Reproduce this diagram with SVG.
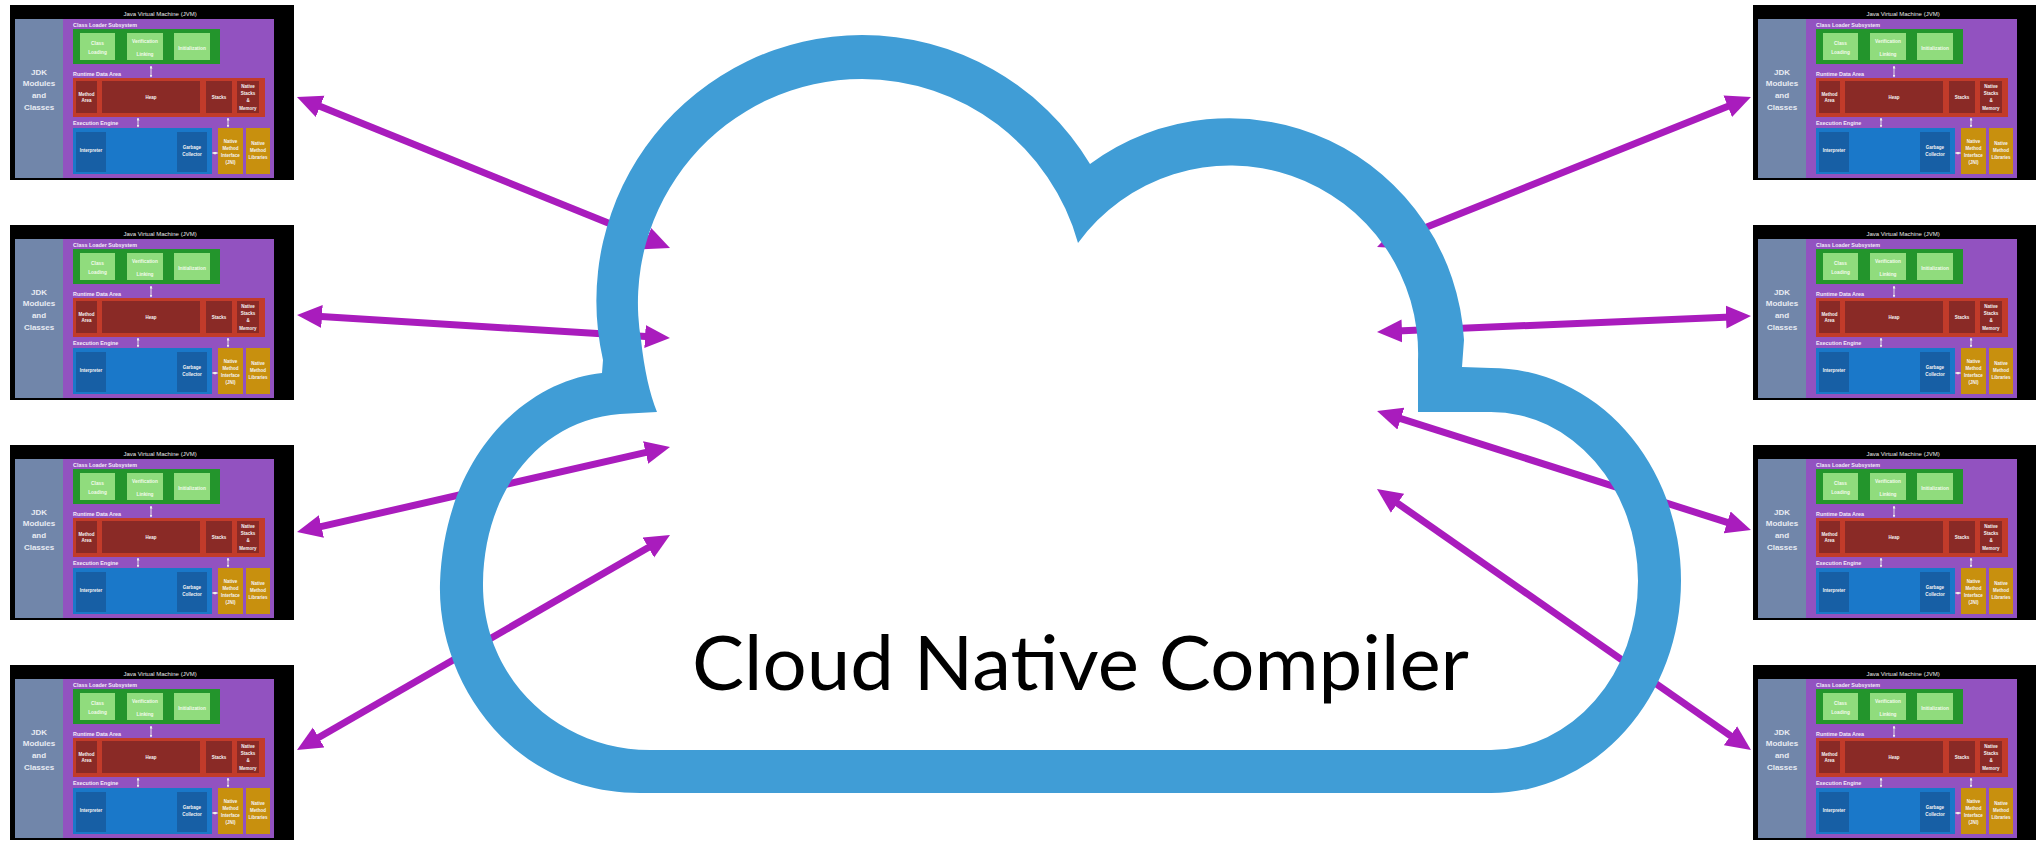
<svg xmlns="http://www.w3.org/2000/svg" width="2036" height="841" viewBox="0 0 2036 841">
<style>
.bk{fill:#000}
.jdk{fill:#7186aa}
.pur{fill:#9252c0}
.g1{fill:#23952c}
.g2{fill:#90dc7d}
.r1{fill:#c23b2a}
.r2{fill:#8a2a26}
.b1{fill:#1a78c9}
.b2{fill:#175fa5}
.o{fill:#c8900e}
text{font-family:"Liberation Sans",Arial,sans-serif}
.tt{font-size:6px;fill:#e6e6e6;text-anchor:middle}
.tj{font-size:8px;font-weight:bold;fill:#e8ebf2;text-anchor:middle}
.ts{font-size:5.4px;font-weight:bold;fill:#f2eaf8}
.ti{font-size:4.5px;font-weight:bold;fill:#f4f4f4;text-anchor:middle}
.tg{font-size:4.8px;font-weight:bold;fill:#f2fbec;text-anchor:middle}
.sa{stroke:#eee;stroke-width:0.9;fill:none;marker-start:url(#ms);marker-end:url(#ms)}
.da{stroke:#eee;stroke-width:0.9;fill:none;stroke-dasharray:1.2 0.8;marker-start:url(#ms);marker-end:url(#ms)}
.con{stroke:#a91cbd;stroke-width:7;fill:none;marker-start:url(#ah);marker-end:url(#ah)}
.cloud{fill:#409dd6;fill-rule:evenodd}
.title{font-family:Lato,"Liberation Sans",sans-serif;font-size:76px;fill:#000}
</style>
<defs>
<marker id="ah" markerUnits="userSpaceOnUse" markerWidth="25" markerHeight="24" viewBox="0 -12 25 24" refX="5" refY="0" orient="auto-start-reverse">
<path d="M0,-11.5 L25,0 L0,11.5 Z" fill="#a91cbd"/>
</marker>
<marker id="ms" markerUnits="userSpaceOnUse" markerWidth="3" markerHeight="3" viewBox="0 -1.5 3 3" refX="2.5" refY="0" orient="auto-start-reverse">
<path d="M0,-1.5 L3,0 L0,1.5 Z" fill="#eee"/>
</marker>
</defs>
<rect x="0" y="0" width="2036" height="841" fill="#fff"/>

<g id="connectors">
<line class="con" x1="315.5" y1="104.5" x2="651.5" y2="240.5"/>
<line class="con" x1="317" y1="316.2" x2="650" y2="336.8"/>
<line class="con" x1="316.5" y1="527.6" x2="650.5" y2="451.4"/>
<line class="con" x1="314.3" y1="740" x2="652.7" y2="545"/>
<line class="con" x1="1732.4" y1="104.4" x2="1395.6" y2="239.6"/>
<line class="con" x1="1731" y1="316.9" x2="1397" y2="331.1"/>
<line class="con" x1="1731.9" y1="523.9" x2="1396.1" y2="417.1"/>
<line class="con" x1="1734.6" y1="738.6" x2="1393.4" y2="500.4"/>
</g>

<g id="cloud">
<path class="cloud" d="M602 373 C530 380 445 450 440 583 C437 680 510 793 640 793 L1491 793 A190 212.5 0 0 0 1681 580.5 A190 212.5 0 0 0 1491 368 L1462 367 L1464 340 A235 235 0 0 0 1090 164 A266 266 0 0 0 862 35 A266 266 0 0 0 603 360 Z M657 412 L620 414 C540 420 484 490 483 583 C482 680 560 750 650 750 L1491 750 A147 169 0 0 0 1638 581 A147 169 0 0 0 1491 412 L1418 412 L1418 360 A188 188 0 0 0 1078 243 A224 224 0 0 0 862 79 A224 224 0 0 0 641 340 Q646 385 657 412 Z"/>
<text class="title" x="692" y="690" textLength="777" lengthAdjust="spacingAndGlyphs">Cloud Native Compiler</text>
</g>

<g id="jvm-left-1" transform="translate(10,5)">
<rect class="bk" width="284" height="175"/>
<text class="tt" x="150" y="11">Java Virtual Machine (JVM)</text>
<rect class="jdk" x="5" y="14" width="48" height="159"/>
<text class="tj" x="29" y="70">JDK</text><text class="tj" x="29" y="81">Modules</text><text class="tj" x="29" y="93">and</text><text class="tj" x="29" y="105">Classes</text>
<rect class="pur" x="53" y="14" width="211" height="159"/>
<text class="ts" x="63" y="22">Class Loader Subsystem</text>
<rect class="g1" x="63" y="24" width="147" height="35"/>
<rect class="g2" x="70" y="28" width="35" height="27"/><rect class="g2" x="117" y="28" width="36" height="27"/><rect class="g2" x="164" y="28" width="36" height="27"/>
<text class="tg" x="87.5" y="39.5">Class</text><text class="tg" x="87.5" y="48.5">Loading</text>
<text class="tg" x="135" y="37.5">Verification</text><text class="tg" x="135" y="50.5">Linking</text>
<text class="tg" x="182" y="44.5">Initialization</text>
<path class="sa" d="M141,61 V72"/>
<text class="ts" x="63" y="71">Runtime Data Area</text>
<rect class="r1" x="63" y="73" width="192" height="39"/>
<rect class="r2" x="66" y="76" width="21" height="32"/><rect class="r2" x="92" y="76" width="98" height="32"/><rect class="r2" x="196" y="76" width="26" height="32"/><rect class="r2" x="227" y="76" width="22" height="32"/>
<text class="ti" x="76.5" y="90.5">Method</text><text class="ti" x="76.5" y="96.5">Area</text>
<text class="ti" x="141" y="93.5">Heap</text><text class="ti" x="209" y="93.5">Stacks</text>
<text class="ti" x="238" y="82.5">Native</text><text class="ti" x="238" y="90">Stacks</text><text class="ti" x="238" y="97">&amp;</text><text class="ti" x="238" y="104.5">Memory</text>
<path class="sa" d="M128,113 V122"/><path class="sa" d="M218,113 V122"/>
<text class="ts" x="63" y="120">Execution Engine</text>
<rect class="b1" x="63" y="123" width="139" height="46"/>
<rect class="b2" x="66" y="127" width="30" height="40"/><rect class="b2" x="167" y="127" width="30" height="40"/>
<text class="ti" x="81" y="147">Interpreter</text>
<text class="ti" x="182" y="143.5">Garbage</text><text class="ti" x="182" y="150.5">Collector</text>
<path class="da" d="M202.5,148 H207.5"/>
<rect class="o" x="208" y="123" width="25" height="46"/><rect class="o" x="236" y="123" width="24" height="46"/>
<text class="ti" x="220.5" y="138">Native</text><text class="ti" x="220.5" y="145">Method</text><text class="ti" x="220.5" y="152">Interface</text><text class="ti" x="220.5" y="159">(JNI)</text>
<text class="ti" x="248" y="140">Native</text><text class="ti" x="248" y="147">Method</text><text class="ti" x="248" y="154">Libraries</text>
</g>

<g id="jvm-left-2" transform="translate(10,225)">
<rect class="bk" width="284" height="175"/>
<text class="tt" x="150" y="11">Java Virtual Machine (JVM)</text>
<rect class="jdk" x="5" y="14" width="48" height="159"/>
<text class="tj" x="29" y="70">JDK</text><text class="tj" x="29" y="81">Modules</text><text class="tj" x="29" y="93">and</text><text class="tj" x="29" y="105">Classes</text>
<rect class="pur" x="53" y="14" width="211" height="159"/>
<text class="ts" x="63" y="22">Class Loader Subsystem</text>
<rect class="g1" x="63" y="24" width="147" height="35"/>
<rect class="g2" x="70" y="28" width="35" height="27"/><rect class="g2" x="117" y="28" width="36" height="27"/><rect class="g2" x="164" y="28" width="36" height="27"/>
<text class="tg" x="87.5" y="39.5">Class</text><text class="tg" x="87.5" y="48.5">Loading</text>
<text class="tg" x="135" y="37.5">Verification</text><text class="tg" x="135" y="50.5">Linking</text>
<text class="tg" x="182" y="44.5">Initialization</text>
<path class="sa" d="M141,61 V72"/>
<text class="ts" x="63" y="71">Runtime Data Area</text>
<rect class="r1" x="63" y="73" width="192" height="39"/>
<rect class="r2" x="66" y="76" width="21" height="32"/><rect class="r2" x="92" y="76" width="98" height="32"/><rect class="r2" x="196" y="76" width="26" height="32"/><rect class="r2" x="227" y="76" width="22" height="32"/>
<text class="ti" x="76.5" y="90.5">Method</text><text class="ti" x="76.5" y="96.5">Area</text>
<text class="ti" x="141" y="93.5">Heap</text><text class="ti" x="209" y="93.5">Stacks</text>
<text class="ti" x="238" y="82.5">Native</text><text class="ti" x="238" y="90">Stacks</text><text class="ti" x="238" y="97">&amp;</text><text class="ti" x="238" y="104.5">Memory</text>
<path class="sa" d="M128,113 V122"/><path class="sa" d="M218,113 V122"/>
<text class="ts" x="63" y="120">Execution Engine</text>
<rect class="b1" x="63" y="123" width="139" height="46"/>
<rect class="b2" x="66" y="127" width="30" height="40"/><rect class="b2" x="167" y="127" width="30" height="40"/>
<text class="ti" x="81" y="147">Interpreter</text>
<text class="ti" x="182" y="143.5">Garbage</text><text class="ti" x="182" y="150.5">Collector</text>
<path class="da" d="M202.5,148 H207.5"/>
<rect class="o" x="208" y="123" width="25" height="46"/><rect class="o" x="236" y="123" width="24" height="46"/>
<text class="ti" x="220.5" y="138">Native</text><text class="ti" x="220.5" y="145">Method</text><text class="ti" x="220.5" y="152">Interface</text><text class="ti" x="220.5" y="159">(JNI)</text>
<text class="ti" x="248" y="140">Native</text><text class="ti" x="248" y="147">Method</text><text class="ti" x="248" y="154">Libraries</text>
</g>

<g id="jvm-left-3" transform="translate(10,445)">
<rect class="bk" width="284" height="175"/>
<text class="tt" x="150" y="11">Java Virtual Machine (JVM)</text>
<rect class="jdk" x="5" y="14" width="48" height="159"/>
<text class="tj" x="29" y="70">JDK</text><text class="tj" x="29" y="81">Modules</text><text class="tj" x="29" y="93">and</text><text class="tj" x="29" y="105">Classes</text>
<rect class="pur" x="53" y="14" width="211" height="159"/>
<text class="ts" x="63" y="22">Class Loader Subsystem</text>
<rect class="g1" x="63" y="24" width="147" height="35"/>
<rect class="g2" x="70" y="28" width="35" height="27"/><rect class="g2" x="117" y="28" width="36" height="27"/><rect class="g2" x="164" y="28" width="36" height="27"/>
<text class="tg" x="87.5" y="39.5">Class</text><text class="tg" x="87.5" y="48.5">Loading</text>
<text class="tg" x="135" y="37.5">Verification</text><text class="tg" x="135" y="50.5">Linking</text>
<text class="tg" x="182" y="44.5">Initialization</text>
<path class="sa" d="M141,61 V72"/>
<text class="ts" x="63" y="71">Runtime Data Area</text>
<rect class="r1" x="63" y="73" width="192" height="39"/>
<rect class="r2" x="66" y="76" width="21" height="32"/><rect class="r2" x="92" y="76" width="98" height="32"/><rect class="r2" x="196" y="76" width="26" height="32"/><rect class="r2" x="227" y="76" width="22" height="32"/>
<text class="ti" x="76.5" y="90.5">Method</text><text class="ti" x="76.5" y="96.5">Area</text>
<text class="ti" x="141" y="93.5">Heap</text><text class="ti" x="209" y="93.5">Stacks</text>
<text class="ti" x="238" y="82.5">Native</text><text class="ti" x="238" y="90">Stacks</text><text class="ti" x="238" y="97">&amp;</text><text class="ti" x="238" y="104.5">Memory</text>
<path class="sa" d="M128,113 V122"/><path class="sa" d="M218,113 V122"/>
<text class="ts" x="63" y="120">Execution Engine</text>
<rect class="b1" x="63" y="123" width="139" height="46"/>
<rect class="b2" x="66" y="127" width="30" height="40"/><rect class="b2" x="167" y="127" width="30" height="40"/>
<text class="ti" x="81" y="147">Interpreter</text>
<text class="ti" x="182" y="143.5">Garbage</text><text class="ti" x="182" y="150.5">Collector</text>
<path class="da" d="M202.5,148 H207.5"/>
<rect class="o" x="208" y="123" width="25" height="46"/><rect class="o" x="236" y="123" width="24" height="46"/>
<text class="ti" x="220.5" y="138">Native</text><text class="ti" x="220.5" y="145">Method</text><text class="ti" x="220.5" y="152">Interface</text><text class="ti" x="220.5" y="159">(JNI)</text>
<text class="ti" x="248" y="140">Native</text><text class="ti" x="248" y="147">Method</text><text class="ti" x="248" y="154">Libraries</text>
</g>

<g id="jvm-left-4" transform="translate(10,665)">
<rect class="bk" width="284" height="175"/>
<text class="tt" x="150" y="11">Java Virtual Machine (JVM)</text>
<rect class="jdk" x="5" y="14" width="48" height="159"/>
<text class="tj" x="29" y="70">JDK</text><text class="tj" x="29" y="81">Modules</text><text class="tj" x="29" y="93">and</text><text class="tj" x="29" y="105">Classes</text>
<rect class="pur" x="53" y="14" width="211" height="159"/>
<text class="ts" x="63" y="22">Class Loader Subsystem</text>
<rect class="g1" x="63" y="24" width="147" height="35"/>
<rect class="g2" x="70" y="28" width="35" height="27"/><rect class="g2" x="117" y="28" width="36" height="27"/><rect class="g2" x="164" y="28" width="36" height="27"/>
<text class="tg" x="87.5" y="39.5">Class</text><text class="tg" x="87.5" y="48.5">Loading</text>
<text class="tg" x="135" y="37.5">Verification</text><text class="tg" x="135" y="50.5">Linking</text>
<text class="tg" x="182" y="44.5">Initialization</text>
<path class="sa" d="M141,61 V72"/>
<text class="ts" x="63" y="71">Runtime Data Area</text>
<rect class="r1" x="63" y="73" width="192" height="39"/>
<rect class="r2" x="66" y="76" width="21" height="32"/><rect class="r2" x="92" y="76" width="98" height="32"/><rect class="r2" x="196" y="76" width="26" height="32"/><rect class="r2" x="227" y="76" width="22" height="32"/>
<text class="ti" x="76.5" y="90.5">Method</text><text class="ti" x="76.5" y="96.5">Area</text>
<text class="ti" x="141" y="93.5">Heap</text><text class="ti" x="209" y="93.5">Stacks</text>
<text class="ti" x="238" y="82.5">Native</text><text class="ti" x="238" y="90">Stacks</text><text class="ti" x="238" y="97">&amp;</text><text class="ti" x="238" y="104.5">Memory</text>
<path class="sa" d="M128,113 V122"/><path class="sa" d="M218,113 V122"/>
<text class="ts" x="63" y="120">Execution Engine</text>
<rect class="b1" x="63" y="123" width="139" height="46"/>
<rect class="b2" x="66" y="127" width="30" height="40"/><rect class="b2" x="167" y="127" width="30" height="40"/>
<text class="ti" x="81" y="147">Interpreter</text>
<text class="ti" x="182" y="143.5">Garbage</text><text class="ti" x="182" y="150.5">Collector</text>
<path class="da" d="M202.5,148 H207.5"/>
<rect class="o" x="208" y="123" width="25" height="46"/><rect class="o" x="236" y="123" width="24" height="46"/>
<text class="ti" x="220.5" y="138">Native</text><text class="ti" x="220.5" y="145">Method</text><text class="ti" x="220.5" y="152">Interface</text><text class="ti" x="220.5" y="159">(JNI)</text>
<text class="ti" x="248" y="140">Native</text><text class="ti" x="248" y="147">Method</text><text class="ti" x="248" y="154">Libraries</text>
</g>

<g id="jvm-right-1" transform="translate(1753,5)">
<rect class="bk" width="284" height="175"/>
<text class="tt" x="150" y="11">Java Virtual Machine (JVM)</text>
<rect class="jdk" x="5" y="14" width="48" height="159"/>
<text class="tj" x="29" y="70">JDK</text><text class="tj" x="29" y="81">Modules</text><text class="tj" x="29" y="93">and</text><text class="tj" x="29" y="105">Classes</text>
<rect class="pur" x="53" y="14" width="211" height="159"/>
<text class="ts" x="63" y="22">Class Loader Subsystem</text>
<rect class="g1" x="63" y="24" width="147" height="35"/>
<rect class="g2" x="70" y="28" width="35" height="27"/><rect class="g2" x="117" y="28" width="36" height="27"/><rect class="g2" x="164" y="28" width="36" height="27"/>
<text class="tg" x="87.5" y="39.5">Class</text><text class="tg" x="87.5" y="48.5">Loading</text>
<text class="tg" x="135" y="37.5">Verification</text><text class="tg" x="135" y="50.5">Linking</text>
<text class="tg" x="182" y="44.5">Initialization</text>
<path class="sa" d="M141,61 V72"/>
<text class="ts" x="63" y="71">Runtime Data Area</text>
<rect class="r1" x="63" y="73" width="192" height="39"/>
<rect class="r2" x="66" y="76" width="21" height="32"/><rect class="r2" x="92" y="76" width="98" height="32"/><rect class="r2" x="196" y="76" width="26" height="32"/><rect class="r2" x="227" y="76" width="22" height="32"/>
<text class="ti" x="76.5" y="90.5">Method</text><text class="ti" x="76.5" y="96.5">Area</text>
<text class="ti" x="141" y="93.5">Heap</text><text class="ti" x="209" y="93.5">Stacks</text>
<text class="ti" x="238" y="82.5">Native</text><text class="ti" x="238" y="90">Stacks</text><text class="ti" x="238" y="97">&amp;</text><text class="ti" x="238" y="104.5">Memory</text>
<path class="sa" d="M128,113 V122"/><path class="sa" d="M218,113 V122"/>
<text class="ts" x="63" y="120">Execution Engine</text>
<rect class="b1" x="63" y="123" width="139" height="46"/>
<rect class="b2" x="66" y="127" width="30" height="40"/><rect class="b2" x="167" y="127" width="30" height="40"/>
<text class="ti" x="81" y="147">Interpreter</text>
<text class="ti" x="182" y="143.5">Garbage</text><text class="ti" x="182" y="150.5">Collector</text>
<path class="da" d="M202.5,148 H207.5"/>
<rect class="o" x="208" y="123" width="25" height="46"/><rect class="o" x="236" y="123" width="24" height="46"/>
<text class="ti" x="220.5" y="138">Native</text><text class="ti" x="220.5" y="145">Method</text><text class="ti" x="220.5" y="152">Interface</text><text class="ti" x="220.5" y="159">(JNI)</text>
<text class="ti" x="248" y="140">Native</text><text class="ti" x="248" y="147">Method</text><text class="ti" x="248" y="154">Libraries</text>
</g>

<g id="jvm-right-2" transform="translate(1753,225)">
<rect class="bk" width="284" height="175"/>
<text class="tt" x="150" y="11">Java Virtual Machine (JVM)</text>
<rect class="jdk" x="5" y="14" width="48" height="159"/>
<text class="tj" x="29" y="70">JDK</text><text class="tj" x="29" y="81">Modules</text><text class="tj" x="29" y="93">and</text><text class="tj" x="29" y="105">Classes</text>
<rect class="pur" x="53" y="14" width="211" height="159"/>
<text class="ts" x="63" y="22">Class Loader Subsystem</text>
<rect class="g1" x="63" y="24" width="147" height="35"/>
<rect class="g2" x="70" y="28" width="35" height="27"/><rect class="g2" x="117" y="28" width="36" height="27"/><rect class="g2" x="164" y="28" width="36" height="27"/>
<text class="tg" x="87.5" y="39.5">Class</text><text class="tg" x="87.5" y="48.5">Loading</text>
<text class="tg" x="135" y="37.5">Verification</text><text class="tg" x="135" y="50.5">Linking</text>
<text class="tg" x="182" y="44.5">Initialization</text>
<path class="sa" d="M141,61 V72"/>
<text class="ts" x="63" y="71">Runtime Data Area</text>
<rect class="r1" x="63" y="73" width="192" height="39"/>
<rect class="r2" x="66" y="76" width="21" height="32"/><rect class="r2" x="92" y="76" width="98" height="32"/><rect class="r2" x="196" y="76" width="26" height="32"/><rect class="r2" x="227" y="76" width="22" height="32"/>
<text class="ti" x="76.5" y="90.5">Method</text><text class="ti" x="76.5" y="96.5">Area</text>
<text class="ti" x="141" y="93.5">Heap</text><text class="ti" x="209" y="93.5">Stacks</text>
<text class="ti" x="238" y="82.5">Native</text><text class="ti" x="238" y="90">Stacks</text><text class="ti" x="238" y="97">&amp;</text><text class="ti" x="238" y="104.5">Memory</text>
<path class="sa" d="M128,113 V122"/><path class="sa" d="M218,113 V122"/>
<text class="ts" x="63" y="120">Execution Engine</text>
<rect class="b1" x="63" y="123" width="139" height="46"/>
<rect class="b2" x="66" y="127" width="30" height="40"/><rect class="b2" x="167" y="127" width="30" height="40"/>
<text class="ti" x="81" y="147">Interpreter</text>
<text class="ti" x="182" y="143.5">Garbage</text><text class="ti" x="182" y="150.5">Collector</text>
<path class="da" d="M202.5,148 H207.5"/>
<rect class="o" x="208" y="123" width="25" height="46"/><rect class="o" x="236" y="123" width="24" height="46"/>
<text class="ti" x="220.5" y="138">Native</text><text class="ti" x="220.5" y="145">Method</text><text class="ti" x="220.5" y="152">Interface</text><text class="ti" x="220.5" y="159">(JNI)</text>
<text class="ti" x="248" y="140">Native</text><text class="ti" x="248" y="147">Method</text><text class="ti" x="248" y="154">Libraries</text>
</g>

<g id="jvm-right-3" transform="translate(1753,445)">
<rect class="bk" width="284" height="175"/>
<text class="tt" x="150" y="11">Java Virtual Machine (JVM)</text>
<rect class="jdk" x="5" y="14" width="48" height="159"/>
<text class="tj" x="29" y="70">JDK</text><text class="tj" x="29" y="81">Modules</text><text class="tj" x="29" y="93">and</text><text class="tj" x="29" y="105">Classes</text>
<rect class="pur" x="53" y="14" width="211" height="159"/>
<text class="ts" x="63" y="22">Class Loader Subsystem</text>
<rect class="g1" x="63" y="24" width="147" height="35"/>
<rect class="g2" x="70" y="28" width="35" height="27"/><rect class="g2" x="117" y="28" width="36" height="27"/><rect class="g2" x="164" y="28" width="36" height="27"/>
<text class="tg" x="87.5" y="39.5">Class</text><text class="tg" x="87.5" y="48.5">Loading</text>
<text class="tg" x="135" y="37.5">Verification</text><text class="tg" x="135" y="50.5">Linking</text>
<text class="tg" x="182" y="44.5">Initialization</text>
<path class="sa" d="M141,61 V72"/>
<text class="ts" x="63" y="71">Runtime Data Area</text>
<rect class="r1" x="63" y="73" width="192" height="39"/>
<rect class="r2" x="66" y="76" width="21" height="32"/><rect class="r2" x="92" y="76" width="98" height="32"/><rect class="r2" x="196" y="76" width="26" height="32"/><rect class="r2" x="227" y="76" width="22" height="32"/>
<text class="ti" x="76.5" y="90.5">Method</text><text class="ti" x="76.5" y="96.5">Area</text>
<text class="ti" x="141" y="93.5">Heap</text><text class="ti" x="209" y="93.5">Stacks</text>
<text class="ti" x="238" y="82.5">Native</text><text class="ti" x="238" y="90">Stacks</text><text class="ti" x="238" y="97">&amp;</text><text class="ti" x="238" y="104.5">Memory</text>
<path class="sa" d="M128,113 V122"/><path class="sa" d="M218,113 V122"/>
<text class="ts" x="63" y="120">Execution Engine</text>
<rect class="b1" x="63" y="123" width="139" height="46"/>
<rect class="b2" x="66" y="127" width="30" height="40"/><rect class="b2" x="167" y="127" width="30" height="40"/>
<text class="ti" x="81" y="147">Interpreter</text>
<text class="ti" x="182" y="143.5">Garbage</text><text class="ti" x="182" y="150.5">Collector</text>
<path class="da" d="M202.5,148 H207.5"/>
<rect class="o" x="208" y="123" width="25" height="46"/><rect class="o" x="236" y="123" width="24" height="46"/>
<text class="ti" x="220.5" y="138">Native</text><text class="ti" x="220.5" y="145">Method</text><text class="ti" x="220.5" y="152">Interface</text><text class="ti" x="220.5" y="159">(JNI)</text>
<text class="ti" x="248" y="140">Native</text><text class="ti" x="248" y="147">Method</text><text class="ti" x="248" y="154">Libraries</text>
</g>

<g id="jvm-right-4" transform="translate(1753,665)">
<rect class="bk" width="284" height="175"/>
<text class="tt" x="150" y="11">Java Virtual Machine (JVM)</text>
<rect class="jdk" x="5" y="14" width="48" height="159"/>
<text class="tj" x="29" y="70">JDK</text><text class="tj" x="29" y="81">Modules</text><text class="tj" x="29" y="93">and</text><text class="tj" x="29" y="105">Classes</text>
<rect class="pur" x="53" y="14" width="211" height="159"/>
<text class="ts" x="63" y="22">Class Loader Subsystem</text>
<rect class="g1" x="63" y="24" width="147" height="35"/>
<rect class="g2" x="70" y="28" width="35" height="27"/><rect class="g2" x="117" y="28" width="36" height="27"/><rect class="g2" x="164" y="28" width="36" height="27"/>
<text class="tg" x="87.5" y="39.5">Class</text><text class="tg" x="87.5" y="48.5">Loading</text>
<text class="tg" x="135" y="37.5">Verification</text><text class="tg" x="135" y="50.5">Linking</text>
<text class="tg" x="182" y="44.5">Initialization</text>
<path class="sa" d="M141,61 V72"/>
<text class="ts" x="63" y="71">Runtime Data Area</text>
<rect class="r1" x="63" y="73" width="192" height="39"/>
<rect class="r2" x="66" y="76" width="21" height="32"/><rect class="r2" x="92" y="76" width="98" height="32"/><rect class="r2" x="196" y="76" width="26" height="32"/><rect class="r2" x="227" y="76" width="22" height="32"/>
<text class="ti" x="76.5" y="90.5">Method</text><text class="ti" x="76.5" y="96.5">Area</text>
<text class="ti" x="141" y="93.5">Heap</text><text class="ti" x="209" y="93.5">Stacks</text>
<text class="ti" x="238" y="82.5">Native</text><text class="ti" x="238" y="90">Stacks</text><text class="ti" x="238" y="97">&amp;</text><text class="ti" x="238" y="104.5">Memory</text>
<path class="sa" d="M128,113 V122"/><path class="sa" d="M218,113 V122"/>
<text class="ts" x="63" y="120">Execution Engine</text>
<rect class="b1" x="63" y="123" width="139" height="46"/>
<rect class="b2" x="66" y="127" width="30" height="40"/><rect class="b2" x="167" y="127" width="30" height="40"/>
<text class="ti" x="81" y="147">Interpreter</text>
<text class="ti" x="182" y="143.5">Garbage</text><text class="ti" x="182" y="150.5">Collector</text>
<path class="da" d="M202.5,148 H207.5"/>
<rect class="o" x="208" y="123" width="25" height="46"/><rect class="o" x="236" y="123" width="24" height="46"/>
<text class="ti" x="220.5" y="138">Native</text><text class="ti" x="220.5" y="145">Method</text><text class="ti" x="220.5" y="152">Interface</text><text class="ti" x="220.5" y="159">(JNI)</text>
<text class="ti" x="248" y="140">Native</text><text class="ti" x="248" y="147">Method</text><text class="ti" x="248" y="154">Libraries</text>
</g>
</svg>
